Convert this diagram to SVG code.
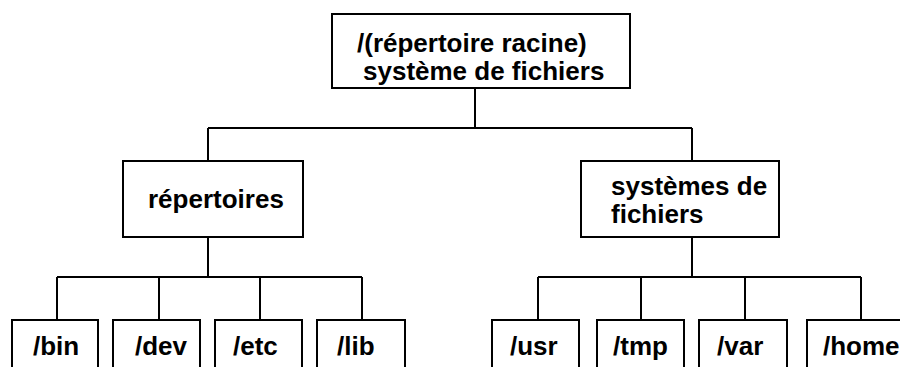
<svg xmlns="http://www.w3.org/2000/svg" width="900" height="367" viewBox="0 0 900 367">
<style>
.box{fill:#fff;stroke:#000;stroke-width:2}
.ln{fill:none;stroke:#000;stroke-width:2}
text{font-family:"Liberation Sans",Arial,sans-serif;font-weight:bold;font-size:26px;fill:#000}
</style>
<rect width="900" height="367" fill="#fff"/>
<g id="connectors">
<path class="ln" d="M475 88V128M208 128H692M208 128V161M692 128V161"/>
<path class="ln" d="M208 237V277M57 277H362M57 277V320M159 277V320M260 277V320M362 277V320"/>
<path class="ln" d="M692 237V277M538 277H861M538 277V320M641 277V320M745 277V320M861 277V320"/>
</g>
<g id="root"><rect class="box" x="332" y="14" width="298" height="74"/>
<text x="357" y="52">/(répertoire racine)</text><text x="363" y="80">système de fichiers</text></g>
<g id="repertoires"><rect class="box" x="123" y="161" width="180" height="76"/>
<text x="148" y="208">répertoires</text></g>
<g id="systemes"><rect class="box" x="581" y="161" width="198" height="76"/>
<text x="611" y="195">systèmes de</text><text x="611" y="223">fichiers</text></g>
<g id="bin"><rect class="box" x="12" y="320" width="86" height="70"/><text x="33" y="355">/bin</text></g>
<g id="dev"><rect class="box" x="113" y="320" width="87" height="70"/><text x="135" y="355">/dev</text></g>
<g id="etc"><rect class="box" x="215" y="320" width="87" height="70"/><text x="233" y="355">/etc</text></g>
<g id="lib"><rect class="box" x="317" y="320" width="88" height="70"/><text x="337" y="355">/lib</text></g>
<g id="usr"><rect class="box" x="492" y="320" width="87" height="70"/><text x="510" y="355">/usr</text></g>
<g id="tmp"><rect class="box" x="597" y="320" width="87" height="70"/><text x="613" y="355">/tmp</text></g>
<g id="var"><rect class="box" x="699" y="320" width="88" height="70"/><text x="717" y="355">/var</text></g>
<g id="home"><rect class="box" x="807" y="320" width="110" height="70"/><text x="823" y="355">/home</text></g>
</svg>
